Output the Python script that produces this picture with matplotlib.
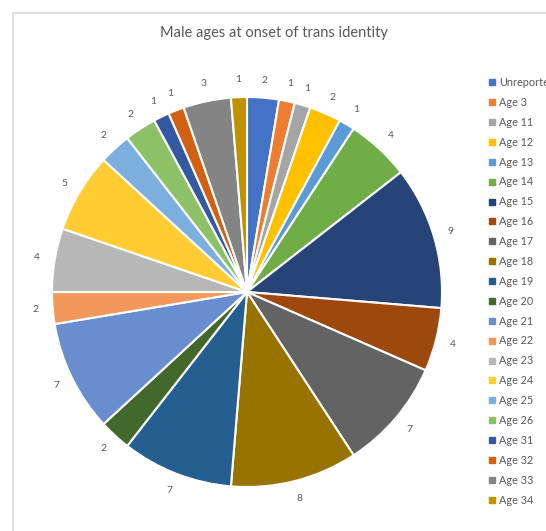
import matplotlib.pyplot as plt
from matplotlib.lines import Line2D
from matplotlib.patches import Rectangle
import numpy as np

categories = ['Unreported', 'Age 3', 'Age 11', 'Age 12', 'Age 13', 'Age 14', 'Age 15',
              'Age 16', 'Age 17', 'Age 18', 'Age 19', 'Age 20', 'Age 21', 'Age 22',
              'Age 23', 'Age 24', 'Age 25', 'Age 26', 'Age 31', 'Age 32', 'Age 33', 'Age 34']
counts = [2, 1, 1, 2, 1, 4, 9, 4, 7, 8, 7, 2, 7, 2, 4, 5, 2, 2, 1, 1, 3, 1]
colors = ['#4472C4', '#ED7D31', '#A5A5A5', '#FFC000', '#5B9BD5', '#70AD47',
          '#264478', '#9E480E', '#636363', '#997300', '#255E91', '#43682B',
          '#698ED0', '#F1975A', '#B7B7B7', '#FFCD33', '#7CAFDD', '#8CC168',
          '#335AA1', '#D26012', '#848484', '#C09100']

plt.rcParams['font.family'] = ['Lato', 'DejaVu Sans']
W, H = 546, 531
fig = plt.figure(figsize=(W / 100, H / 100), dpi=100)

# chart area border (light gray), starts at x=13, y=13
fig.patches.append(Rectangle((13 / W, -0.1), 1.2, (H - 13) / H + 0.1, transform=fig.transFigure,
                             fill=False, edgecolor='#D9D9D9', linewidth=1.2))

cx, cy, r = 247, 292, 195
ax = fig.add_axes([(cx - r) / W, (H - cy - r) / H, 2 * r / W, 2 * r / H])
wedges, _ = ax.pie(counts, colors=colors, startangle=90, counterclock=False, radius=1.0,
                   wedgeprops=dict(edgecolor='white', linewidth=1.5))
ax.set_xlim(-1, 1)
ax.set_ylim(-1, 1)
ax.set_aspect('equal')
ax.axis('off')

for w, n in zip(wedges, counts):
    ang = np.deg2rad((w.theta1 + w.theta2) / 2)
    ax.text(1.09 * np.cos(ang), 1.09 * np.sin(ang), str(n), ha='center', va='center',
            fontsize=7.5, color='#595959', clip_on=False)

fig.text(274 / W, 1 - 33 / H, 'Male ages at onset of trans identity', ha='center', va='center',
         fontsize=10.5, color='#595959')

handles = [Line2D([], [], linestyle='none', marker='s', markersize=3.8,
                  markerfacecolor=c, markeredgecolor=c) for c in colors]
fig.legend(handles, categories, loc='upper left', bbox_to_anchor=(489 / W, 1 - 77 / H),
           frameon=False, fontsize=7.8, labelcolor='#595959', handlelength=0.6,
           handletextpad=0.3, labelspacing=0.82, borderpad=0, borderaxespad=0)

fig.savefig('out.png', dpi=100)
